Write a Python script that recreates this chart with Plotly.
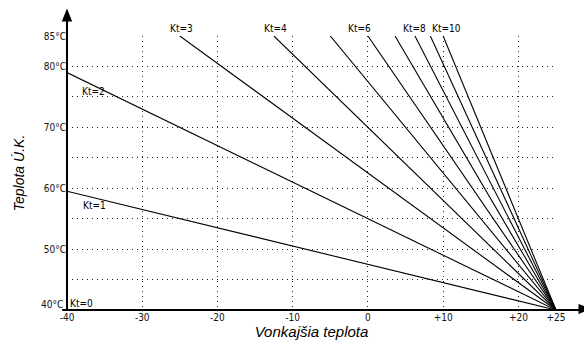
import plotly.graph_objects as go

# Heating curves: each line runs from a start point to (+25, 40)
kt_values = [0, 1, 2, 3, 4, 5, 6, 7, 8, 9, 10]
start_x = [-40, -40, -40, -25, -12.5, -5, 0, 3.6, 6.25, 8.3, 10]
start_y = [40, 59.5, 79, 85, 85, 85, 85, 85, 85, 85, 85]
end_x = [25] * 11
end_y = [40] * 11

# in-plot labels
label_text = ["Kt=0", "Kt=1", "Kt=2"]
label_x = [-38.1, -36.3, -36.5]
label_y = [41.0, 57.1, 75.9]
# labels above the top edge (y = 85)
top_label_text = ["Kt=3", "Kt=4", "Kt=6", "Kt=8", "Kt=10"]
top_label_x = [-24.8, -12.25, -1.1, 6.15, 10.45]

x_tick_vals = [-40, -30, -20, -10, 0, 10, 20, 25]
x_tick_text = ["-40", "-30", "-20", "-10", "0", "+10", "+20", "+25"]
x_grid_vals = [-30, -20, -10, 0, 10, 20]
y_tick_vals = [40, 45, 50, 55, 60, 65, 70, 75, 80, 85]
y_tick_text = ["", "", "50°C", "", "60°C", "", "70°C", "", "80°C", "85°C"]
y_bottom_label = "40°C"

x_title = "Vonkajšia teplota"
y_title = "Teplota Ú.K."

FONT_FAMILY = "DejaVu Sans Condensed, DejaVu Sans"
TICKFONT = dict(family=FONT_FAMILY, size=10, color="#111")
GRID_DASH = "1px,4px"

fig = go.Figure()
for k, x0, y0, x1, y1 in zip(kt_values, start_x, start_y, end_x, end_y):
    fig.add_trace(go.Scatter(x=[x0, x1], y=[y0, y1], mode="lines",
                             line=dict(color="black", width=1.1),
                             name=f"Kt={k}", showlegend=False, hoverinfo="skip"))

for t, x, y in zip(label_text, label_x, label_y):
    fig.add_annotation(x=x, y=y, xref="x", yref="y", text=t, showarrow=False,
                       font=dict(family=FONT_FAMILY, size=10, color="black"),
                       xanchor="center", yanchor="middle")
for t, x in zip(top_label_text, top_label_x):
    fig.add_annotation(x=x, y=85, xref="x", yref="y", text=t, showarrow=False,
                       font=dict(family=FONT_FAMILY, size=10, color="black"),
                       xanchor="center", yanchor="bottom", yshift=0)

fig.add_annotation(x=-40, y=40, xref="x", yref="y", text=y_bottom_label, showarrow=False,
                   font=TICKFONT, xanchor="right", yanchor="middle", xshift=-2, yshift=6)

# axis lines with arrows
fig.add_shape(type="line", xref="paper", yref="paper", x0=0, y0=0, x1=0, y1=1.06,
              line=dict(color="black", width=2))
fig.add_shape(type="line", xref="paper", yref="paper", x0=-0.01, y0=0, x1=1.05, y1=0,
              line=dict(color="black", width=2))
fig.add_shape(type="path", xref="paper", yref="paper",
              path="M -0.0107 1.053 L 0.0107 1.053 L 0 1.1005 Z",
              fillcolor="black", line=dict(color="black", width=0))
fig.add_shape(type="path", xref="paper", yref="paper",
              path="M 1.046 0.0219 L 1.046 -0.0146 L 1.0725 0.0037 Z",
              fillcolor="black", line=dict(color="black", width=0))

fig.update_layout(
    width=584, height=342,
    margin=dict(l=67, r=28, t=36, b=32),
    paper_bgcolor="white", plot_bgcolor="white",
    xaxis=dict(range=[-40, 25], tickmode="array", tickvals=x_tick_vals, ticktext=x_tick_text,
               showgrid=False, zeroline=False, showline=False, ticks="", automargin=False,
               tickfont=TICKFONT, ticklabelstandoff=0,
               title=dict(text=x_title, standoff=3,
                          font=dict(family="Liberation Sans, Arial", size=15, color="black",
                                    style="italic"))),
    xaxis2=dict(range=[-40, 25], overlaying="x", matches="x", tickmode="array",
                tickvals=x_grid_vals, showticklabels=False, showgrid=True, automargin=False,
                gridcolor="#222", griddash=GRID_DASH, gridwidth=1, zeroline=False, ticks=""),
    yaxis=dict(range=[40, 85], tickmode="array", tickvals=y_tick_vals, ticktext=y_tick_text,
               showgrid=True, gridcolor="#222", griddash=GRID_DASH, gridwidth=1, automargin=False,
               zeroline=False, showline=False, ticks="", tickfont=TICKFONT,
               title=dict(text=y_title, standoff=15,
                          font=dict(family="Liberation Sans, Arial", size=14, color="black",
                                    style="italic"))),
)
fig.add_trace(go.Scatter(x=[None], y=[None], xaxis="x2", showlegend=False, hoverinfo="skip"))

fig.write_html("out.html")
